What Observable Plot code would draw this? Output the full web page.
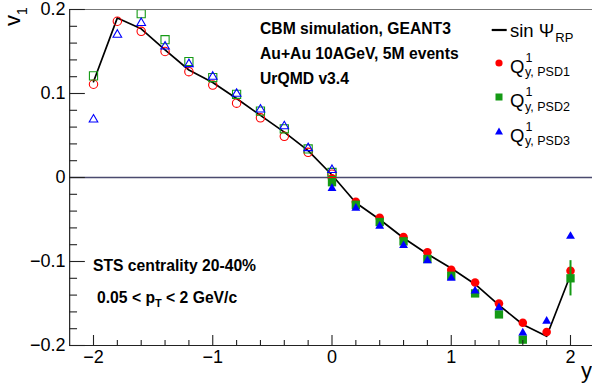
<!DOCTYPE html>
<html><head><meta charset="utf-8">
<script src="https://cdn.jsdelivr.net/npm/d3@7"></script>
<script src="https://cdn.jsdelivr.net/npm/@observablehq/plot@0.6"></script>
<style>html,body{margin:0;padding:0;background:#fff;} svg{display:block}</style>
</head><body><div id="chart"></div>
<script>
// ---- data ----
const rapidity = [-2,-1.8,-1.6,-1.4,-1.2,-1,-0.8,-0.6,-0.4,-0.2,0,0.2,0.4,0.6,0.8,1,1.2,1.4,1.6,1.8,2];
const sinPsiRP = [0.114,0.190,0.177,0.152,0.128,0.113,0.094,0.074,0.054,0.032,0.003,-0.030,-0.050,-0.072,-0.091,-0.108,-0.127,-0.152,-0.175,-0.189,-0.116];

const rapidityNeg = [-2,-1.8,-1.6,-1.4,-1.2,-1,-0.8,-0.6,-0.4,-0.2,0];
const rapidityPos = [0,0.2,0.4,0.6,0.8,1,1.2,1.4,1.6,1.8,2];

const psd1Neg = [0.111,0.186,0.174,0.150,0.126,0.110,0.0885,0.071,0.049,0.030,0.004];
const psd1Pos = [-0.001,-0.029,-0.048,-0.071,-0.089,-0.110,-0.125,-0.150,-0.173,-0.184,-0.111];
const psd2Neg = [0.121,0.206,0.195,0.164,0.138,0.119,0.099,0.079,0.058,0.034,0.006];
const psd2Pos = [-0.0056,-0.0325,-0.053,-0.076,-0.097,-0.117,-0.138,-0.163,-0.193,-0.206,-0.120];
const psd3Neg = [0.069,0.170,0.184,0.156,0.135,0.120,0.0996,0.081,0.061,0.035,0.009];
const psd3Pos = [-0.013,-0.0365,-0.058,-0.081,-0.099,-0.120,-0.135,-0.155,-0.185,-0.171,-0.070];

const psd2ErrX = [2];
const psd2ErrLo = [-0.141];
const psd2ErrHi = [-0.099];

const xMajorTicks = [-2,-1,0,1,2];
const xMinorTicks = [-1.8,-1.6,-1.4,-1.2,-0.8,-0.6,-0.4,-0.2,0.2,0.4,0.6,0.8,1.2,1.4,1.6,1.8];
const yMajorTicks = [-0.2,-0.1,0,0.1,0.2];
const yMinorTicks = [-0.18,-0.16,-0.14,-0.12,-0.08,-0.06,-0.04,-0.02,0.02,0.04,0.06,0.08,0.12,0.14,0.16,0.18];

// ---- build tables ----
const tbl = (xs, ys) => xs.map((x, i) => ({x, v: ys[i]}));
const lineData = tbl(rapidity, sinPsiRP);
const n1 = tbl(rapidityNeg, psd1Neg), p1 = tbl(rapidityPos, psd1Pos);
const n2 = tbl(rapidityNeg, psd2Neg), p2 = tbl(rapidityPos, psd2Pos);
const n3 = tbl(rapidityNeg, psd3Neg), p3 = tbl(rapidityPos, psd3Pos);
const err2 = psd2ErrX.map((x, i) => ({x, lo: psd2ErrLo[i], hi: psd2ErrHi[i]}));

const W = 592, H = 387;
const mL = 69, mT = 9, mB = 42;
const xDom = [-2.2, 2.2], yDom = [-0.2, 0.2];
const xRange = [69.15, 593.85], yRange = [345, 9];
const pxY = (yDom[1]-yDom[0]) / (yRange[0]-yRange[1]);
const pxX = (xDom[1]-xDom[0]) / (xRange[1]-xRange[0]);

const fmt = d => d === 0 ? "0" : (Number.isInteger(d) ? d3.format("d")(d) : d3.format(".1f")(d));

const RED = "#ff0000", GREEN = "#159a15", BLUE = "#0000ff";
const FONT = "'Liberation Sans', Arial, Helvetica, sans-serif";

const svg = Plot.plot({
  width: W, height: H,
  marginLeft: mL, marginTop: mT, marginBottom: mB, marginRight: 0,
  style: {fontFamily: FONT, fontSize: "18px", background: "white", color: "black"},
  x: {domain: xDom, range: xRange, ticks: xMajorTicks, tickSize: 0, tickPadding: 4.5, tickFormat: fmt, label: null},
  y: {domain: yDom, range: yRange, ticks: yMajorTicks, tickSize: 0, tickPadding: 4, tickFormat: fmt, label: null},
  marks: [
    Plot.ruleY([0], {stroke: "#4a4a6e", strokeWidth: 1.4}),
    Plot.line(lineData, {x: "x", y: "v", stroke: "black", strokeWidth: 1.7, clip: true}),
    Plot.dot(n1, {x: "x", y: "v", symbol: "circle", r: 4.2, fill: "none", stroke: RED, strokeWidth: 1.1, clip: true}),
    Plot.dot(p1, {x: "x", y: "v", symbol: "circle", r: 4.3, fill: RED, clip: true}),
    Plot.ruleX(err2, {x: "x", y1: "lo", y2: "hi", stroke: GREEN, strokeWidth: 2, clip: true}),
    Plot.dot(n2, {x: "x", y: "v", symbol: "square", r: 4.6, fill: "none", stroke: GREEN, strokeWidth: 1.1, clip: true}),
    Plot.dot(p2, {x: "x", y: "v", symbol: "square", r: 4.7, fill: GREEN, clip: true}),
    Plot.dot(n3, {x: "x", y: "v", symbol: "triangle", r: 3.2, fill: "none", stroke: BLUE, strokeWidth: 1.1, clip: true}),
    Plot.dot(p3, {x: "x", y: "v", symbol: "triangle", r: 3.3, fill: BLUE, clip: true}),
    // frame
    Plot.ruleY([yDom[1]], {stroke: "#777", strokeWidth: 1.2}),
    Plot.ruleY([yDom[0]], {stroke: "#222", strokeWidth: 1.2}),
    Plot.ruleX([xDom[0]], {stroke: "#222", strokeWidth: 1.2}),
    // inward ticks
    Plot.ruleX(xMajorTicks, {x: d => d, y1: yDom[0], y2: yDom[0] + 10*pxY, stroke: "#222", strokeWidth: 1.1}),
    Plot.ruleX(xMinorTicks, {x: d => d, y1: yDom[0], y2: yDom[0] + 5*pxY, stroke: "#222", strokeWidth: 1.1}),
    Plot.ruleY(yMajorTicks, {y: d => d, x1: xDom[0], x2: xDom[0] + 15.7*pxX, stroke: "#222", strokeWidth: 1.1}),
    Plot.ruleY(yMinorTicks, {y: d => d, x1: xDom[0], x2: xDom[0] + 7.9*pxX, stroke: "#222", strokeWidth: 1.1})
  ]
});

const s = d3.select(svg);
const g = s.append("g").attr("font-family", FONT).attr("fill", "black").attr("text-anchor", "start");

// axis titles
g.append("text").attr("x", 592).attr("y", 378).attr("text-anchor", "end").attr("font-size", 22).text("y");
const vt = g.append("text").attr("transform", "translate(20,26) rotate(-90)").attr("font-size", 22);
vt.append("tspan").text("v");
vt.append("tspan").attr("font-size", 14).attr("dy", 7).text("1");

// info texts
const bold = (x, y, t) => g.append("text").attr("x", x).attr("y", y).attr("font-size", 15.7).attr("font-weight", "bold").text(t);
bold(260, 34, "CBM simulation, GEANT3");
bold(260, 59, "Au+Au 10AGeV, 5M events");
bold(260, 84, "UrQMD v3.4");
bold(93, 270.7, "STS centrality 20-40%");
const pt = g.append("text").attr("x", 97).attr("y", 303.3).attr("font-size", 15.7).attr("font-weight", "bold");
pt.append("tspan").text("0.05 < p");
pt.append("tspan").attr("font-size", 11).attr("dy", 4).text("T");
pt.append("tspan").attr("dy", -4).text(" < 2 GeV/c");

// legend
g.append("line").attr("x1", 491.7).attr("x2", 506.7).attr("y1", 30).attr("y2", 30).attr("stroke", "black").attr("stroke-width", 2.2);
const lt = g.append("text").attr("x", 510).attr("y", 36.7).attr("font-size", 18.5);
lt.append("tspan").text("sin \u03A8");
lt.append("tspan").attr("font-size", 13).attr("dx", 1).attr("dy", 5.5).text("RP");

const rows = [
  {y: 0, label: "y, PSD1"},
  {y: 34.5, label: "y, PSD2"},
  {y: 69, label: "y, PSD3"}
];
rows.forEach((r, i) => {
  const base = 72.7 + r.y;
  g.append("text").attr("x", 510).attr("y", base).attr("font-size", 18.5).text("Q");
  g.append("text").attr("x", 525.5).attr("y", base - 11).attr("font-size", 12.5).text("1");
  g.append("text").attr("x", 525).attr("y", base + 3.5).attr("font-size", 12.5).text(r.label);
});
g.append("circle").attr("cx", 499).attr("cy", 63).attr("r", 3.6).attr("fill", RED);
g.append("rect").attr("x", 495.5).attr("y", 93.5).attr("width", 7).attr("height", 7).attr("fill", GREEN);
g.append("path").attr("d", "M499,127.5 L503,134.5 L495,134.5 Z").attr("fill", BLUE);

document.getElementById("chart").appendChild(svg);
</script>
</body></html>
